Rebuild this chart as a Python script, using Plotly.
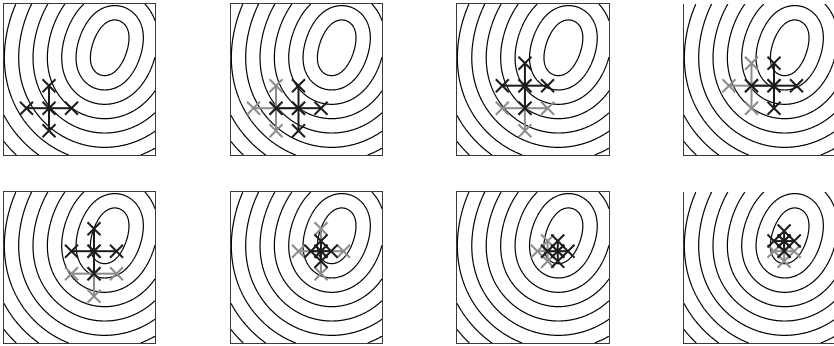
import numpy as np
import plotly.graph_objects as go

# ---- objective landscape (same in every panel) ----
MIN_CENTER = (0.70, 0.71)      # centre of the innermost contour
TILT_DEG = 19                  # major axis leans right of vertical
CORE_AXES = (0.12, 0.045)      # semi-major, semi-minor of the core ellipse
LEVEL_START = 0.07
LEVEL_STEP = 0.095
N_LEVELS = 9

# ---- compass search iterates: poll centre and step length per panel ----
poll_x = [0.298, 0.447, 0.447, 0.596, 0.596, 0.596, 0.663, 0.663]
poll_y = [0.310, 0.310, 0.459, 0.459, 0.608, 0.608, 0.608, 0.675]
poll_step = [0.149, 0.149, 0.149, 0.149, 0.149, 0.067, 0.067, 0.067]

BLACK = "#1c1c1c"
GRAY = "#8c8c8c"

W, H = 834, 346
col_px = [(4, 155), (231, 382), (457, 609), (684, 835)]
row_px = [(4, 155), (192, 343)]

# distance field from a tilted core ellipse -> rounded, evenly spaced rings
grid = np.linspace(0, 1, 241)
GX, GY = np.meshgrid(grid, grid)
th = np.radians(TILT_DEG)
ux, uy = np.sin(th), np.cos(th)
vx, vy = np.cos(th), -np.sin(th)
dist = np.full(GX.shape, np.inf)
for t in np.linspace(0, 2 * np.pi, 720, endpoint=False):
    bx = MIN_CENTER[0] + CORE_AXES[0] * np.cos(t) * ux + CORE_AXES[1] * np.sin(t) * vx
    by = MIN_CENTER[1] + CORE_AXES[0] * np.cos(t) * uy + CORE_AXES[1] * np.sin(t) * vy
    dist = np.minimum(dist, np.hypot(GX - bx, GY - by))

fig = go.Figure()
layout = {}


def poll_traces(cx, cy, s, color, ax, ay):
    px = [cx - s, cx + s, cx, cx]
    py = [cy, cy, cy + s, cy - s]
    lx, ly = [], []
    for x, y in zip(px, py):
        lx += [cx, x, None]
        ly += [cy, y, None]
    return [
        go.Scatter(x=lx, y=ly, mode="lines", line=dict(color=color, width=2),
                   xaxis=ax, yaxis=ay, hoverinfo="skip", showlegend=False),
        go.Scatter(x=px + [cx], y=py + [cy], mode="markers",
                   marker=dict(symbol="x-thin", size=13, line=dict(color=color, width=2)),
                   xaxis=ax, yaxis=ay, hoverinfo="skip", showlegend=False),
    ]


for i in range(8):
    r, c = divmod(i, 4)
    n = i + 1
    ax, ay = f"x{n}", f"y{n}"
    x0, x1 = col_px[c]
    y0, y1 = row_px[r]
    width_px = x1 - x0
    xr = [0, 1]
    if x1 > W:
        xr = [0, (W - x0) / width_px]
        x1 = W
    layout[f"xaxis{'' if n == 1 else n}"] = dict(
        domain=[x0 / W, x1 / W], range=xr, showticklabels=False, ticks="",
        showgrid=False, zeroline=False, showline=True, mirror=(c < 3),
        linecolor="#3a3a3a", linewidth=1, anchor=ay, fixedrange=True)
    layout[f"yaxis{'' if n == 1 else n}"] = dict(
        domain=[(H - y1) / H, (H - y0) / H], range=[0, 1], showticklabels=False,
        ticks="", showgrid=False, zeroline=False, showline=True, mirror=True,
        linecolor="#3a3a3a", linewidth=1, anchor=ax, fixedrange=True)

    fig.add_trace(go.Contour(
        x=grid, y=grid, z=dist, xaxis=ax, yaxis=ay,
        contours=dict(start=LEVEL_START, end=LEVEL_START + LEVEL_STEP * (N_LEVELS - 1) + 1e-6,
                      size=LEVEL_STEP, coloring="lines"),
        colorscale=[[0, "black"], [1, "black"]], line=dict(width=1.2),
        showscale=False, hoverinfo="skip"))

    if i > 0:
        for tr in poll_traces(poll_x[i - 1], poll_y[i - 1], poll_step[i - 1], GRAY, ax, ay):
            fig.add_trace(tr)
    for tr in poll_traces(poll_x[i], poll_y[i], poll_step[i], BLACK, ax, ay):
        fig.add_trace(tr)

fig.update_layout(width=W, height=H, margin=dict(l=0, r=0, t=0, b=0),
                  paper_bgcolor="white", plot_bgcolor="white", **layout)
fig.write_html("out.html")
